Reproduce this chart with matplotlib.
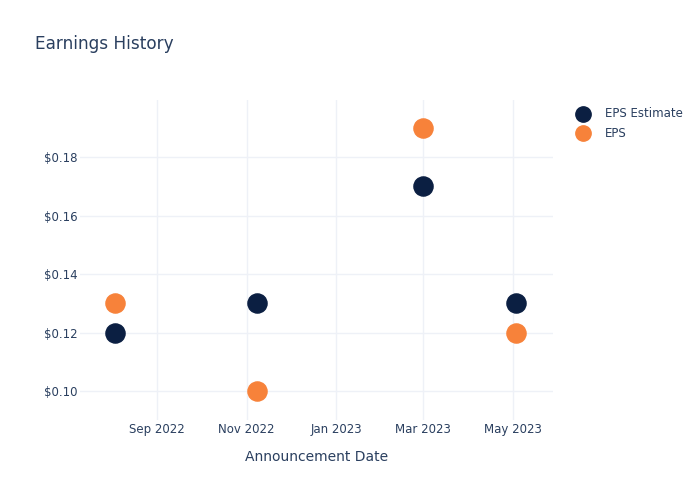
import numpy as np
import pandas as pd
import matplotlib.pyplot as plt
import matplotlib.dates as mdates
from matplotlib.ticker import FuncFormatter, FixedLocator

dates = pd.to_datetime(['2022-08-04', '2022-11-08', '2023-03-01', '2023-05-03'])
eps_estimate = [0.12, 0.13, 0.17, 0.13]
eps_actual = [0.13, 0.10, 0.19, 0.12]
y_ticks = [0.10, 0.12, 0.14, 0.16, 0.18]

text_color = '#2a3f5f'
grid_color = '#eef1f7'

fig = plt.figure(figsize=(7, 5), dpi=100)
ax = fig.add_axes([80 / 700, 80 / 500, 473 / 700, 320 / 500])

ax.scatter(dates, eps_estimate, s=190, color='#0b1f42', label='EPS Estimate', zorder=3)
ax.scatter(dates, eps_actual, s=190, color='#f7823a', label='EPS', zorder=3)

ax.set_xlim(pd.Timestamp('2022-07-11'), pd.Timestamp('2023-05-28'))
ax.set_ylim(0.0901, 0.1995)

ax.xaxis.set_major_locator(mdates.MonthLocator(bymonth=[1, 3, 5, 9, 11]))
ax.xaxis.set_major_formatter(mdates.DateFormatter('%b %Y'))
ax.yaxis.set_major_locator(FixedLocator(y_ticks))
ax.yaxis.set_major_formatter(FuncFormatter(lambda v, p: f'${v:.2f}'))

for s in ax.spines.values():
    s.set_visible(False)
ax.grid(True, color=grid_color, linewidth=1)
ax.set_axisbelow(True)
ax.tick_params(length=0, labelsize=8.5, colors=text_color)
ax.tick_params(axis='x', pad=2)
ax.tick_params(axis='y', pad=2)

ax.set_xlabel('Announcement Date', fontsize=10, color=text_color, labelpad=10)
fig.text(35 / 700, 1 - 44 / 500, 'Earnings History', fontsize=12.2, color=text_color, va='center')

leg = ax.legend(loc='upper left', bbox_to_anchor=(1.023, 1.0), frameon=False, fontsize=8.5,
                labelcolor=text_color, handletextpad=0.9, borderaxespad=0.2, labelspacing=0.55,
                markerscale=0.8)

fig.savefig('out.png', dpi=100)
